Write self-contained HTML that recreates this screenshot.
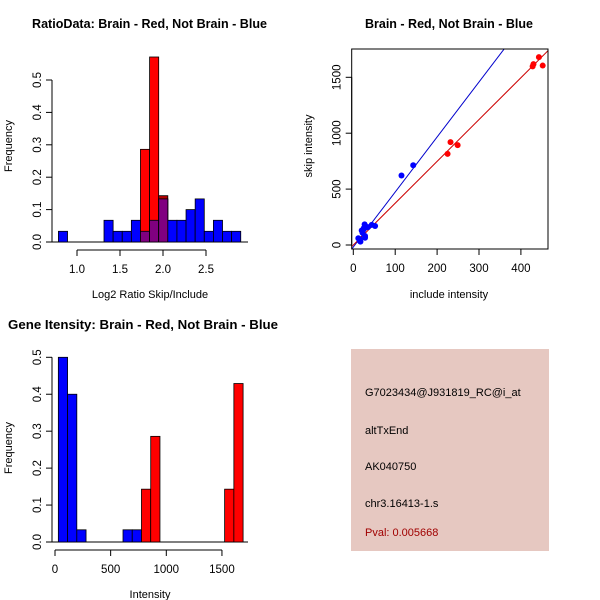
<!DOCTYPE html>
<html><head><meta charset="utf-8"><style>
html,body{margin:0;padding:0;background:#fff;}
svg{display:block;font-family:"Liberation Sans",sans-serif;}
</style></head><body>
<svg id="c" width="600" height="600" viewBox="0 0 600 600" xmlns="http://www.w3.org/2000/svg">
<rect x="0" y="0" width="600" height="600" fill="#fff"/>
<text x="32" y="28" font-size="12.5" font-weight="bold" textLength="235" lengthAdjust="spacingAndGlyphs">RatioData: Brain - Red, Not Brain - Blue</text>
<text x="365" y="28" font-size="12.5" font-weight="bold" textLength="168" lengthAdjust="spacingAndGlyphs">Brain - Red, Not Brain - Blue</text>
<text x="8" y="329" font-size="12.5" font-weight="bold" textLength="270" lengthAdjust="spacingAndGlyphs">Gene Itensity: Brain - Red, Not Brain - Blue</text>
<g id="p1"></g>
<g id="p2"></g>
<g id="p3"></g>
<rect x="351" y="349" width="198" height="202" fill="#e6c8c1"/>
<g font-size="11">
<text x="365" y="396">G7023434@J931819_RC@i_at</text>
<text x="365" y="434">altTxEnd</text>
<text x="365" y="470">AK040750</text>
<text x="365" y="507">chr3.16413-1.s</text>
<text x="365" y="536" fill="#a00000">Pval: 0.005668</text>
</g>
</svg>
<script>
// Ratio histogram data
const ratioStart = 0.784, ratioWidth = 0.106;
const ratioBlue = [0.033,0,0,0,0,0.067,0.033,0.033,0.067,0.033,0.067,0.133,0.067,0.067,0.1,0.133,0.033,0.067,0.033,0.033];
const ratioRed  = [0,0,0,0,0,0,0,0,0,0.286,0.571,0.143,0,0,0,0,0,0,0,0];
const ratioXTicks = [1.0,1.5,2.0,2.5];
const ratioYTicks = [0.0,0.1,0.2,0.3,0.4,0.5];
// Scatter data
const blueX = [115,143,52,44,27,25,20,28,28,15,17,12,30,35,22,16];
const blueY = [622,713,170,180,185,150,130,80,65,40,30,60,160,160,110,50];
const redX = [428,430,443,452,225,232,249];
const redY = [1598,1618,1680,1605,815,920,893];
const blueFit = [-18,4.92];
const redFit = [0,3.74];
const scatXTicks = [0,100,200,300,400];
const scatYTicks = [0,500,1000,1500];
// Intensity histogram data
const intStart = 30, intWidth = 83;
const intBlue = [0.5,0.4,0.033,0,0,0,0,0.033,0.033,0,0,0,0,0,0,0,0,0,0,0];
const intRed  = [0,0,0,0,0,0,0,0,0,0.143,0.286,0,0,0,0,0,0,0,0.143,0.429];
const intXTicks = [0,500,1000,1500];
const intYTicks = [0.0,0.1,0.2,0.3,0.4,0.5];

const NS="http://www.w3.org/2000/svg";
function mk(parent,tag,attrs){const e=document.createElementNS(NS,tag);for(const k in attrs)e.setAttribute(k,attrs[k]);parent.appendChild(e);return e;}

function yAxis(g,sy,ticks,x,fmt,name){
  mk(g,'line',{x1:x,x2:x,y1:sy(ticks[0]),y2:sy(ticks[ticks.length-1]),stroke:'#000'});
  ticks.forEach(t=>{
    mk(g,'line',{x1:x-6,x2:x,y1:sy(t),y2:sy(t),stroke:'#000'});
    const tx=mk(g,'text',{x:0,y:0,'font-size':11.5,'text-anchor':'middle',transform:`translate(${x-11},${sy(t)}) rotate(-90)`});
    tx.textContent=fmt(t);
    
    
  });
}
function xAxis(g,sx,ticks,y,name){
  mk(g,'line',{x1:sx(ticks[0]),x2:sx(ticks[ticks.length-1]),y1:y,y2:y,stroke:'#000'});
  ticks.forEach(t=>{
    mk(g,'line',{x1:sx(t),x2:sx(t),y1:y,y2:y+6,stroke:'#000'});
    const tx=mk(g,'text',{x:sx(t),y:y+23,'font-size':11.5,'text-anchor':'middle'});
    tx.textContent=(name==='ratio-x')?t.toFixed(1):String(t);
    
    
  });
}
function label(g,txt,x,y,rot,name){
  const t=mk(g,'text',{x:0,y:0,'font-size':11,'text-anchor':'middle',transform:`translate(${x},${y})`+(rot?' rotate(-90)':'')});
  t.textContent=txt;
  
  
}
function hist(g,sx,sy,start,w,blue,red,name){
  const n=blue.length;
  mk(g,'line',{x1:52,x2:248,y1:sy(0),y2:sy(0),stroke:'#000'});
  for(let i=0;i<n;i++){
    const x0=sx(start+i*w),x1=sx(start+(i+1)*w);
    if(blue[i]>0){const r=mk(g,'rect',{x:x0,y:sy(blue[i]),width:x1-x0,height:sy(0)-sy(blue[i]),fill:'#0000ff',stroke:'#000','stroke-width':0.8});
      
      }
    if(red[i]>0){const ov=Math.min(red[i],blue[i]);
      const r=mk(g,'rect',{x:x0,y:sy(red[i]),width:x1-x0,height:sy(0)-sy(red[i]),fill:ov>0?'#b00000':'#ff0000',stroke:'#000','stroke-width':0.8});
      if(ov>0&&red[i]-ov>0.03)r.setAttribute('fill','#ff0000');
      
      
      if(ov>0){const p=mk(g,'rect',{x:x0,y:sy(ov),width:x1-x0,height:sy(0)-sy(ov),fill:'#800080',stroke:'#000','stroke-width':0.8});
        
        }
    }
  }
}
// Plot 1
(function(){
  const g=document.getElementById('p1');
  const sx=v=>77+(v-1)*86, sy=v=>242-v*324;
  hist(g,sx,sy,ratioStart,ratioWidth,ratioBlue,ratioRed,'ratio');
  yAxis(g,sy,ratioYTicks,52,t=>t.toFixed(1),'ratio-y');
  xAxis(g,sx,ratioXTicks,250,'ratio-x');
  label(g,'Frequency',12,146,true,'ratio-y-axis-title');
  label(g,'Log2 Ratio Skip/Include',150,298,false,'ratio-x-axis-title');
})();
// Plot 2
(function(){
  const g=document.getElementById('p2');
  const sx=v=>353.3+v*0.419, sy=v=>245-v*0.1118;
  const cp=mk(g,'clipPath',{id:'clp'});mk(cp,'rect',{x:352,y:49,width:196,height:200});
  const lg=mk(g,'g',{'clip-path':'url(#clp)'});
  const bl=mk(lg,'line',{x1:sx(-20),y1:sy(blueFit[0]+blueFit[1]*-20),x2:sx(480),y2:sy(blueFit[0]+blueFit[1]*480),stroke:'#0000cc'});
  
  
  const rl=mk(lg,'line',{x1:sx(-20),y1:sy(redFit[0]+redFit[1]*-20),x2:sx(480),y2:sy(redFit[0]+redFit[1]*480),stroke:'#cc0000'});
  
  
  blueX.forEach((x,i)=>{const c=mk(g,'circle',{cx:sx(x),cy:sy(blueY[i]),r:3,fill:'#0000ff'});
    
    });
  redX.forEach((x,i)=>{const c=mk(g,'circle',{cx:sx(x),cy:sy(redY[i]),r:3,fill:'#ff0000'});
    
    });
  mk(g,'rect',{x:351.7,y:49,width:196.3,height:200,fill:'none',stroke:'#000'});
  yAxis(g,sy,scatYTicks,351.7,t=>String(t),'scatter-y');
  scatXTicks.forEach(t=>{mk(g,'line',{x1:sx(t),x2:sx(t),y1:249,y2:255,stroke:'#000'});
    const tx=mk(g,'text',{x:sx(t),y:272,'font-size':11.5,'text-anchor':'middle'});tx.textContent=String(t);
    
    });
  label(g,'skip intensity',312,146,true,'scatter-y-axis-title');
  label(g,'include intensity',449,298,false,'scatter-x-axis-title');
})();
// Plot 3
(function(){
  const g=document.getElementById('p3');
  const sx=v=>55+v*0.1113, sy=v=>542-v*369.4;
  hist(g,sx,sy,intStart,intWidth,intBlue,intRed,'intensity');
  yAxis(g,sy,intYTicks,52,t=>t.toFixed(1),'intensity-y');
  xAxis(g,sx,intXTicks,550,'intensity-x');
  label(g,'Frequency',12,448,true,'intensity-y-axis-title');
  label(g,'Intensity',150,598,false,'intensity-x-axis-title');
})();
</script>
</body></html>
